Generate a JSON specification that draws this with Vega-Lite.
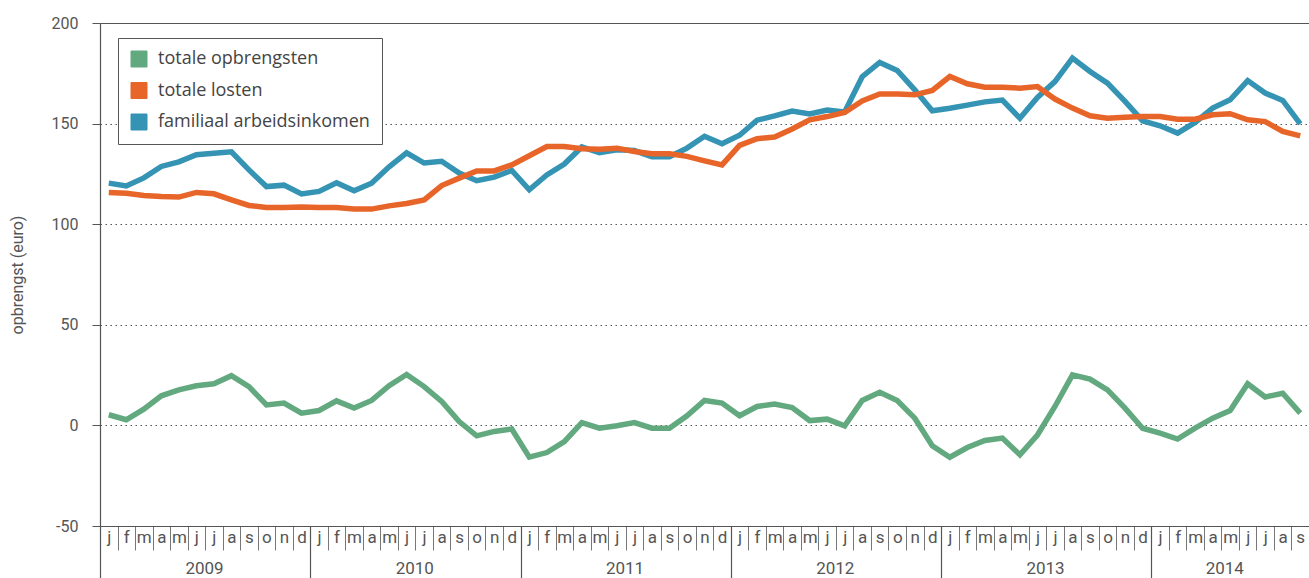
{
  "$schema": "https://vega.github.io/schema/vega-lite/v6.json",
  "width": 1209,
  "height": 503,
  "autosize": {"type": "none"},
  "padding": {"left": 100, "top": 23, "right": 0, "bottom": 52},
  "background": "white",
  "config": {"view": {"stroke": null}, "font": "Roboto"},
  "data": {"values": [
    {"m":"2009-01","totale opbrengsten":5.3,"totale losten":115.8,"familiaal arbeidsinkomen":120.4},
    {"m":"2009-02","totale opbrengsten":2.8,"totale losten":115.4,"familiaal arbeidsinkomen":119},
    {"m":"2009-03","totale opbrengsten":8.1,"totale losten":114.3,"familiaal arbeidsinkomen":123},
    {"m":"2009-04","totale opbrengsten":14.7,"totale losten":113.8,"familiaal arbeidsinkomen":128.7},
    {"m":"2009-05","totale opbrengsten":17.7,"totale losten":113.5,"familiaal arbeidsinkomen":131},
    {"m":"2009-06","totale opbrengsten":19.7,"totale losten":115.8,"familiaal arbeidsinkomen":134.5},
    {"m":"2009-07","totale opbrengsten":20.7,"totale losten":115.1,"familiaal arbeidsinkomen":135.3},
    {"m":"2009-08","totale opbrengsten":24.7,"totale losten":112.1,"familiaal arbeidsinkomen":136},
    {"m":"2009-09","totale opbrengsten":19.3,"totale losten":109.3,"familiaal arbeidsinkomen":127},
    {"m":"2009-10","totale opbrengsten":10.2,"totale losten":108.3,"familiaal arbeidsinkomen":118.7},
    {"m":"2009-11","totale opbrengsten":11.1,"totale losten":108.3,"familiaal arbeidsinkomen":119.4},
    {"m":"2009-12","totale opbrengsten":6.1,"totale losten":108.6,"familiaal arbeidsinkomen":115},
    {"m":"2010-01","totale opbrengsten":7.4,"totale losten":108.3,"familiaal arbeidsinkomen":116.3},
    {"m":"2010-02","totale opbrengsten":12.2,"totale losten":108.3,"familiaal arbeidsinkomen":120.6},
    {"m":"2010-03","totale opbrengsten":8.6,"totale losten":107.6,"familiaal arbeidsinkomen":116.6},
    {"m":"2010-04","totale opbrengsten":12.4,"totale losten":107.5,"familiaal arbeidsinkomen":120.4},
    {"m":"2010-05","totale opbrengsten":19.7,"totale losten":109.1,"familiaal arbeidsinkomen":128.5},
    {"m":"2010-06","totale opbrengsten":25.3,"totale losten":110.3,"familiaal arbeidsinkomen":135.5},
    {"m":"2010-07","totale opbrengsten":19.3,"totale losten":112.1,"familiaal arbeidsinkomen":130.4},
    {"m":"2010-08","totale opbrengsten":11.9,"totale losten":119.2,"familiaal arbeidsinkomen":131.3},
    {"m":"2010-09","totale opbrengsten":1.9,"totale losten":122.9,"familiaal arbeidsinkomen":125.4},
    {"m":"2010-10","totale opbrengsten":-5.2,"totale losten":126.5,"familiaal arbeidsinkomen":121.6},
    {"m":"2010-11","totale opbrengsten":-3,"totale losten":126.5,"familiaal arbeidsinkomen":123.4},
    {"m":"2010-12","totale opbrengsten":-1.8,"totale losten":129.5,"familiaal arbeidsinkomen":126.7},
    {"m":"2011-01","totale opbrengsten":-15.8,"totale losten":134,"familiaal arbeidsinkomen":117.1},
    {"m":"2011-02","totale opbrengsten":-13.5,"totale losten":138.6,"familiaal arbeidsinkomen":124.5},
    {"m":"2011-03","totale opbrengsten":-8,"totale losten":138.6,"familiaal arbeidsinkomen":129.9},
    {"m":"2011-04","totale opbrengsten":1.4,"totale losten":137.5,"familiaal arbeidsinkomen":138.4},
    {"m":"2011-05","totale opbrengsten":-1.4,"totale losten":137.3,"familiaal arbeidsinkomen":135.5},
    {"m":"2011-06","totale opbrengsten":-0.2,"totale losten":137.8,"familiaal arbeidsinkomen":137},
    {"m":"2011-07","totale opbrengsten":1.4,"totale losten":136.1,"familiaal arbeidsinkomen":136.6},
    {"m":"2011-08","totale opbrengsten":-1.4,"totale losten":135,"familiaal arbeidsinkomen":133.5},
    {"m":"2011-09","totale opbrengsten":-1.4,"totale losten":135,"familiaal arbeidsinkomen":133.5},
    {"m":"2011-10","totale opbrengsten":4.8,"totale losten":133.7,"familiaal arbeidsinkomen":137.8},
    {"m":"2011-11","totale opbrengsten":12.4,"totale losten":131.5,"familiaal arbeidsinkomen":143.7},
    {"m":"2011-12","totale opbrengsten":11.1,"totale losten":129.5,"familiaal arbeidsinkomen":140},
    {"m":"2012-01","totale opbrengsten":4.8,"totale losten":139.2,"familiaal arbeidsinkomen":144.2},
    {"m":"2012-02","totale opbrengsten":9.4,"totale losten":142.5,"familiaal arbeidsinkomen":151.7},
    {"m":"2012-03","totale opbrengsten":10.6,"totale losten":143.3,"familiaal arbeidsinkomen":153.8},
    {"m":"2012-04","totale opbrengsten":8.9,"totale losten":147.3,"familiaal arbeidsinkomen":156.2},
    {"m":"2012-05","totale opbrengsten":2.4,"totale losten":151.9,"familiaal arbeidsinkomen":154.8},
    {"m":"2012-06","totale opbrengsten":3.1,"totale losten":153.5,"familiaal arbeidsinkomen":156.7},
    {"m":"2012-07","totale opbrengsten":-0.2,"totale losten":155.5,"familiaal arbeidsinkomen":155.8},
    {"m":"2012-08","totale opbrengsten":12.4,"totale losten":161.3,"familiaal arbeidsinkomen":173.3},
    {"m":"2012-09","totale opbrengsten":16.5,"totale losten":164.7,"familiaal arbeidsinkomen":180.4},
    {"m":"2012-10","totale opbrengsten":12.4,"totale losten":164.7,"familiaal arbeidsinkomen":176.4},
    {"m":"2012-11","totale opbrengsten":3.6,"totale losten":164.3,"familiaal arbeidsinkomen":166.8},
    {"m":"2012-12","totale opbrengsten":-10.1,"totale losten":166.5,"familiaal arbeidsinkomen":156.4},
    {"m":"2013-01","totale opbrengsten":-15.8,"totale losten":173.4,"familiaal arbeidsinkomen":157.6},
    {"m":"2013-02","totale opbrengsten":-11,"totale losten":169.8,"familiaal arbeidsinkomen":159.2},
    {"m":"2013-03","totale opbrengsten":-7.5,"totale losten":168.1,"familiaal arbeidsinkomen":160.8},
    {"m":"2013-04","totale opbrengsten":-6.3,"totale losten":168.1,"familiaal arbeidsinkomen":161.7},
    {"m":"2013-05","totale opbrengsten":-14.6,"totale losten":167.6,"familiaal arbeidsinkomen":152.7},
    {"m":"2013-06","totale opbrengsten":-4.8,"totale losten":168.4,"familiaal arbeidsinkomen":163},
    {"m":"2013-07","totale opbrengsten":9.4,"totale losten":162.2,"familiaal arbeidsinkomen":170.9},
    {"m":"2013-08","totale opbrengsten":25.1,"totale losten":157.7,"familiaal arbeidsinkomen":182.6},
    {"m":"2013-09","totale opbrengsten":23,"totale losten":153.9,"familiaal arbeidsinkomen":175.9},
    {"m":"2013-10","totale opbrengsten":17.7,"totale losten":152.7,"familiaal arbeidsinkomen":170.1},
    {"m":"2013-11","totale opbrengsten":8.6,"totale losten":153.2,"familiaal arbeidsinkomen":161},
    {"m":"2013-12","totale opbrengsten":-1.4,"totale losten":153.5,"familiaal arbeidsinkomen":151.4},
    {"m":"2014-01","totale opbrengsten":-3.8,"totale losten":153.5,"familiaal arbeidsinkomen":148.9},
    {"m":"2014-02","totale opbrengsten":-6.8,"totale losten":152.2,"familiaal arbeidsinkomen":145.3},
    {"m":"2014-03","totale opbrengsten":-1.4,"totale losten":152.2,"familiaal arbeidsinkomen":150.6},
    {"m":"2014-04","totale opbrengsten":3.6,"totale losten":154.4,"familiaal arbeidsinkomen":157.7},
    {"m":"2014-05","totale opbrengsten":7.4,"totale losten":154.9,"familiaal arbeidsinkomen":161.8},
    {"m":"2014-06","totale opbrengsten":20.7,"totale losten":151.9,"familiaal arbeidsinkomen":171.4},
    {"m":"2014-07","totale opbrengsten":14.1,"totale losten":151,"familiaal arbeidsinkomen":165.2},
    {"m":"2014-08","totale opbrengsten":16,"totale losten":146.1,"familiaal arbeidsinkomen":161.5},
    {"m":"2014-09","totale opbrengsten":6.1,"totale losten":143.9,"familiaal arbeidsinkomen":149.9}
  ]},
  "transform": [
    {"fold": ["familiaal arbeidsinkomen", "totale losten", "totale opbrengsten"], "as": ["reeks", "waarde"]}
  ],
  "resolve": {"axis": {"x": "independent"}},
  "layer": [
    {
      "mark": {"type": "line", "strokeWidth": 5.5, "strokeJoin": "miter", "strokeCap": "butt"},
      "encoding": {
        "x": {
          "field": "m", "type": "ordinal", "bandPosition": 0.5,
          "scale": {"type": "band", "paddingInner": 0, "paddingOuter": 0},
          "axis": {
            "orient": "bottom",
            "title": null, "tickBand": "extent", "tickSize": 24, "tickColor": "#777", "tickWidth": 1,
            "labelPadding": -21, "labelAngle": 0, "labelOverlap": false, "labelBound": false,
            "labelExpr": "datum.value ? ['j','f','m','a','m','j','j','a','s','o','n','d'][toNumber(substring(datum.value,5,7))-1] : ''",
            "labelFontSize": 17, "labelColor": "#555", "labelFont": "Roboto",
            "domainColor": "#555", "domainWidth": 1.2, "grid": false
          }
        },
        "y": {
          "field": "waarde", "type": "quantitative",
          "scale": {"domain": [-50, 200], "nice": false, "zero": false},
          "axis": {
            "title": "opbrengst (euro)", "values": [-50, 0, 50, 100, 150, 200],
            "labelExpr": "datum.value < 0 ? '-' + abs(datum.value) : '' + datum.value",
            "grid": true,
            "gridDash": {"condition": {"test": "datum.value == 200", "value": []}, "value": [1.5, 3.5]},
            "gridOpacity": {"condition": {"test": "datum.value == -50", "value": 0}, "value": 1},
            "gridColor": "#555", "gridWidth": 1.2,
            "tickSize": 8, "tickColor": "#555", "domainColor": "#555", "domainWidth": 1.2,
            "labelPadding": 14, "labelFontSize": 16, "labelColor": "#555", "labelFont": "Roboto",
            "titleFontSize": 16, "titleFontWeight": "normal", "titleColor": "#555", "titleFont": "Roboto",
            "titlePadding": 26
          }
        },
        "color": {
          "field": "reeks", "type": "nominal",
          "scale": {
            "domain": ["totale opbrengsten", "totale losten", "familiaal arbeidsinkomen"],
            "range": ["#63a97f", "#e8652a", "#3593b4"]
          },
          "legend": {
            "title": null, "orient": "none", "legendX": 18, "legendY": 15,
            "direction": "vertical",
            "strokeColor": "#555", "fillColor": "white", "padding": 12,
            "symbolType": "square", "symbolSize": 256, "symbolStrokeWidth": 1,
            "labelFontSize": 18, "labelFont": "Open Sans", "labelColor": "#444", "labelOffset": 10,
            "rowPadding": 11.5, "labelLimit": 400,
            "encode": {"symbols": {"update": {
              "fill": {"scale": "color", "field": "value"},
              "stroke": {"value": "#555"},
              "strokeWidth": {"value": 1},
              "opacity": {"value": 1}
            }}}
          }
        }
      }
    },
    {
      "mark": {"type": "point", "opacity": 0},
      "encoding": {
        "x": {
          "field": "m", "type": "ordinal",
          "scale": {"type": "band", "paddingInner": 0, "paddingOuter": 0},
          "axis": {
            "orient": "bottom",
            "title": null,
            "values": ["2009-01", "2010-01", "2011-01", "2012-01", "2013-01", "2014-01"],
            "tickOffset": -8.76, "tickSize": 52, "tickColor": "#555", "tickWidth": 1.2,
            "labelPadding": -18, "labelAngle": 0, "labelOverlap": false, "labelBound": false,
            "labelExpr": "datum.value ? substring(datum.value,0,4) : ''",
            "labelOffset": {"condition": {"test": "datum.value == '2014-01'", "value": 73}, "value": 104},
            "labelFontSize": 17, "labelColor": "#555", "labelFont": "Roboto",
            "domain": false, "grid": false
          }
        }
      }
    }
  ]
}
